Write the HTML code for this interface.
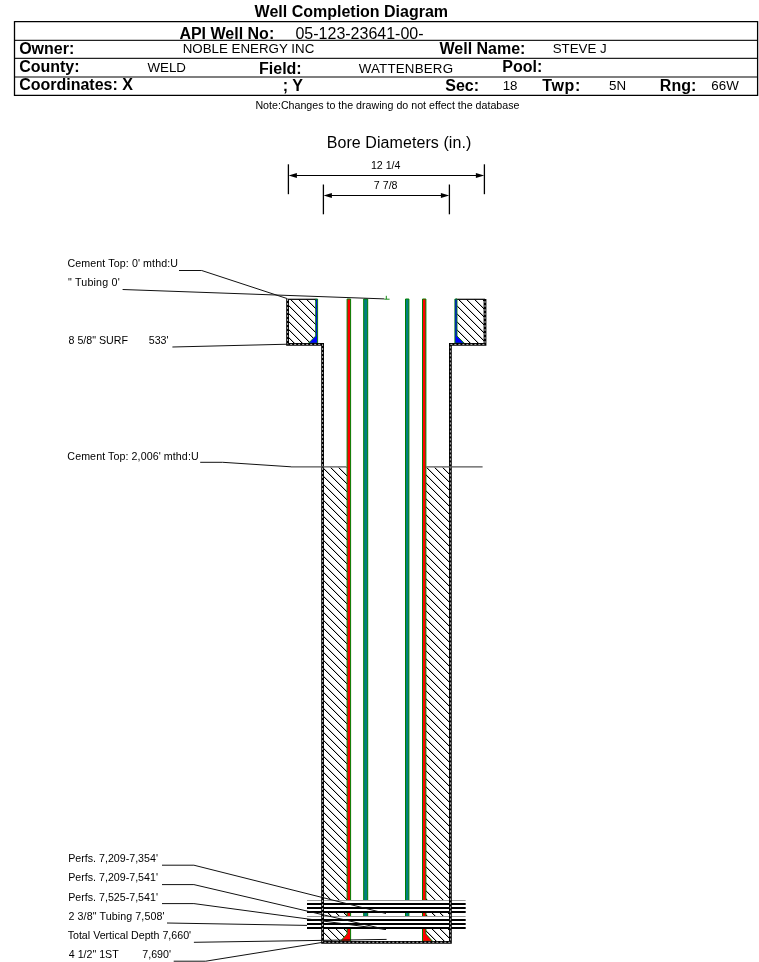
<!DOCTYPE html>
<html><head><meta charset="utf-8"><style>
html,body{margin:0;padding:0;background:#fff;width:759px;height:962px;overflow:hidden}
svg{position:absolute;left:0;top:0;display:block;will-change:transform}
text{font-family:"Liberation Sans",sans-serif;white-space:pre}
</style></head><body>
<svg width="759" height="962" viewBox="0 0 759 962">
<defs><pattern id="hTL" patternUnits="userSpaceOnUse" width="8" height="8"><g fill="#c8c8c8" shape-rendering="crispEdges"><rect x="0" y="0" width="1" height="1"/><rect x="1" y="1" width="1" height="1"/><rect x="2" y="2" width="1" height="1"/><rect x="3" y="3" width="1" height="1"/><rect x="4" y="4" width="1" height="1"/><rect x="5" y="5" width="1" height="1"/><rect x="6" y="6" width="1" height="1"/><rect x="7" y="7" width="1" height="1"/></g><g fill="#000" shape-rendering="crispEdges"><rect x="7" y="0" width="1" height="1"/><rect x="0" y="1" width="1" height="1"/><rect x="1" y="2" width="1" height="1"/><rect x="2" y="3" width="1" height="1"/><rect x="3" y="4" width="1" height="1"/><rect x="4" y="5" width="1" height="1"/><rect x="5" y="6" width="1" height="1"/><rect x="6" y="7" width="1" height="1"/></g></pattern><pattern id="hTR" patternUnits="userSpaceOnUse" width="8" height="8"><g fill="#c8c8c8" shape-rendering="crispEdges"><rect x="0" y="0" width="1" height="1"/><rect x="1" y="1" width="1" height="1"/><rect x="2" y="2" width="1" height="1"/><rect x="3" y="3" width="1" height="1"/><rect x="4" y="4" width="1" height="1"/><rect x="5" y="5" width="1" height="1"/><rect x="6" y="6" width="1" height="1"/><rect x="7" y="7" width="1" height="1"/></g><g fill="#000" shape-rendering="crispEdges"><rect x="7" y="0" width="1" height="1"/><rect x="0" y="1" width="1" height="1"/><rect x="1" y="2" width="1" height="1"/><rect x="2" y="3" width="1" height="1"/><rect x="3" y="4" width="1" height="1"/><rect x="4" y="5" width="1" height="1"/><rect x="5" y="6" width="1" height="1"/><rect x="6" y="7" width="1" height="1"/></g></pattern><pattern id="hBL" patternUnits="userSpaceOnUse" width="8" height="8"><g fill="#c8c8c8" shape-rendering="crispEdges"><rect x="0" y="0" width="1" height="1"/><rect x="1" y="1" width="1" height="1"/><rect x="2" y="2" width="1" height="1"/><rect x="3" y="3" width="1" height="1"/><rect x="4" y="4" width="1" height="1"/><rect x="5" y="5" width="1" height="1"/><rect x="6" y="6" width="1" height="1"/><rect x="7" y="7" width="1" height="1"/></g><g fill="#000" shape-rendering="crispEdges"><rect x="7" y="0" width="1" height="1"/><rect x="0" y="1" width="1" height="1"/><rect x="1" y="2" width="1" height="1"/><rect x="2" y="3" width="1" height="1"/><rect x="3" y="4" width="1" height="1"/><rect x="4" y="5" width="1" height="1"/><rect x="5" y="6" width="1" height="1"/><rect x="6" y="7" width="1" height="1"/></g></pattern><pattern id="hBR" patternUnits="userSpaceOnUse" width="8" height="8"><g fill="#c8c8c8" shape-rendering="crispEdges"><rect x="0" y="0" width="1" height="1"/><rect x="1" y="1" width="1" height="1"/><rect x="2" y="2" width="1" height="1"/><rect x="3" y="3" width="1" height="1"/><rect x="4" y="4" width="1" height="1"/><rect x="5" y="5" width="1" height="1"/><rect x="6" y="6" width="1" height="1"/><rect x="7" y="7" width="1" height="1"/></g><g fill="#000" shape-rendering="crispEdges"><rect x="7" y="0" width="1" height="1"/><rect x="0" y="1" width="1" height="1"/><rect x="1" y="2" width="1" height="1"/><rect x="2" y="3" width="1" height="1"/><rect x="3" y="4" width="1" height="1"/><rect x="4" y="5" width="1" height="1"/><rect x="5" y="6" width="1" height="1"/><rect x="6" y="7" width="1" height="1"/></g></pattern></defs>
<line x1="14.5" y1="21.7" x2="757.6" y2="21.7" stroke="#000" stroke-width="1.3" />
<line x1="14.5" y1="40.3" x2="757.6" y2="40.3" stroke="#222" stroke-width="1.3" />
<line x1="14.5" y1="58.3" x2="757.6" y2="58.3" stroke="#222" stroke-width="1.2" />
<line x1="14.5" y1="77.0" x2="757.6" y2="77.0" stroke="#555" stroke-width="1.5" />
<line x1="14.5" y1="95.4" x2="757.6" y2="95.4" stroke="#000" stroke-width="1.2" />
<line x1="14.5" y1="21.1" x2="14.5" y2="96" stroke="#000" stroke-width="1.3" />
<line x1="757.6" y1="21.1" x2="757.6" y2="96" stroke="#000" stroke-width="1.3" />
<line x1="288.4" y1="164.3" x2="288.4" y2="194.2" stroke="#000" stroke-width="1.3" />
<line x1="484.4" y1="164.3" x2="484.4" y2="194.2" stroke="#000" stroke-width="1.3" />
<line x1="294.4" y1="175.5" x2="478.4" y2="175.5" stroke="#000" stroke-width="1.2" />
<polygon points="288.59999999999997,175.5 296.9,172.9 296.9,178.1" fill="#000" stroke="none" stroke-width="0"/>
<polygon points="484.2,175.5 475.9,172.9 475.9,178.1" fill="#000" stroke="none" stroke-width="0"/>
<line x1="323.4" y1="184.5" x2="323.4" y2="214.3" stroke="#000" stroke-width="1.3" />
<line x1="449.4" y1="184.5" x2="449.4" y2="214.3" stroke="#000" stroke-width="1.3" />
<line x1="329.4" y1="195.5" x2="443.4" y2="195.5" stroke="#000" stroke-width="1.2" />
<polygon points="323.59999999999997,195.5 331.9,192.9 331.9,198.1" fill="#000" stroke="none" stroke-width="0"/>
<polygon points="449.2,195.5 440.9,192.9 440.9,198.1" fill="#000" stroke="none" stroke-width="0"/>
<rect x="288.8" y="299.5" width="27.2" height="43.8" fill="url(#hTL)"/>
<rect x="457.2" y="299.5" width="27.2" height="43.8" fill="url(#hTR)"/>
<rect x="323.8" y="467.6" width="23.4" height="474" fill="url(#hBL)"/>
<rect x="425.8" y="467.6" width="23.6" height="474" fill="url(#hBR)"/>
<line x1="288" y1="299.3" x2="316" y2="299.3" stroke="#000" stroke-width="1.2" />
<line x1="456" y1="299.3" x2="485" y2="299.3" stroke="#000" stroke-width="1.2" />
<polygon points="317.6,299 317.6,343.2 308.5,343.2 315.7,336 315.7,299" fill="#0000ff" stroke="#008000" stroke-width="0.9"/>
<polygon points="454.9,299 454.9,343.2 464.3,343.2 457.0,336 457.0,299" fill="#0000ff" stroke="#008000" stroke-width="0.9"/>
<polygon points="347.1,299 350.6,299 350.6,941.3 340.3,941.3 347.1,934" fill="#ff0000" stroke="#008000" stroke-width="1"/>
<polygon points="422.5,299 425.9,299 425.9,934 432.5,941.3 422.5,941.3" fill="#ff0000" stroke="#008000" stroke-width="1"/>
<polygon points="363.7,299 367.7,299 367.7,927 363.7,927" fill="#008080" stroke="#008000" stroke-width="1"/>
<polygon points="405.5,299 408.9,299 408.9,927 405.5,927" fill="#008080" stroke="#008000" stroke-width="1"/>
<rect x="307" y="900.5" width="158.7" height="12.4" fill="#fff"/>
<rect x="307" y="916.5" width="158.7" height="12.4" fill="#fff"/>
<line x1="307" y1="900.5" x2="465.6" y2="900.5" stroke="#999" stroke-width="1" />
<line x1="307" y1="916.5" x2="465.6" y2="916.5" stroke="#999" stroke-width="1" />
<line x1="307" y1="904" x2="465.7" y2="904" stroke="#000" stroke-width="2" />
<line x1="307" y1="908" x2="465.7" y2="908" stroke="#000" stroke-width="2" />
<line x1="307" y1="912" x2="465.7" y2="912" stroke="#000" stroke-width="2" />
<line x1="307" y1="920" x2="465.7" y2="920" stroke="#000" stroke-width="2" />
<line x1="307" y1="924" x2="465.7" y2="924" stroke="#000" stroke-width="2" />
<line x1="307" y1="928" x2="465.7" y2="928" stroke="#000" stroke-width="2" />
<polyline points="287.6,299 287.6,344.4 322.6,344.4 322.6,942.3 450.4,942.3 450.4,344.4 485,344.4 485,299" fill="none" stroke="#000" stroke-width="2.8" stroke-linejoin="miter"/>
<polyline points="287.6,299 287.6,344.4 322.6,344.4 322.6,942.3 450.4,942.3 450.4,344.4 485,344.4 485,299" fill="none" stroke="#c8c8c8" stroke-width="0.9" stroke-dasharray="2 2"/>
<line x1="291" y1="466.9" x2="346.5" y2="466.9" stroke="#555" stroke-width="1.3" />
<line x1="426.3" y1="466.9" x2="482.6" y2="466.9" stroke="#555" stroke-width="1.3" />
<polyline points="179,270.5 201.7,270.5 287.5,298.7" fill="none" stroke="#111" stroke-width="1"/>
<line x1="122.6" y1="289.5" x2="384.3" y2="298.9" stroke="#111" stroke-width="1" />
<line x1="386.3" y1="295.8" x2="386.3" y2="299.2" stroke="#008000" stroke-width="0.9" />
<line x1="384.3" y1="299.2" x2="389.6" y2="299.2" stroke="#008000" stroke-width="0.9" />
<line x1="172.4" y1="347.0" x2="288" y2="344.2" stroke="#111" stroke-width="1" />
<polyline points="200.2,462.3 222.7,462.3 291,466.8" fill="none" stroke="#111" stroke-width="1"/>
<polyline points="162,865.2 193.9,865.2 386,913.5" fill="none" stroke="#111" stroke-width="1"/>
<polyline points="162,884.6 193.9,884.6 386,929.5" fill="none" stroke="#111" stroke-width="1"/>
<polyline points="162,903.6 193.9,903.6 386,929.5" fill="none" stroke="#111" stroke-width="1"/>
<line x1="167" y1="923" x2="307" y2="925.4" stroke="#111" stroke-width="1" />
<line x1="193.9" y1="942.3" x2="386.6" y2="939.4" stroke="#111" stroke-width="1" />
<polyline points="173.7,961.2 205.7,961.2 323,942.3" fill="none" stroke="#111" stroke-width="1"/>
<text x="254.58" y="16.90" style="font-size:16px;font-weight:bold;fill:#000">Well Completion Diagram</text>
<text x="179.40" y="38.50" style="font-size:16px;font-weight:bold;fill:#000">API Well No:</text>
<text x="295.48" y="38.50" style="font-size:16px;fill:#000">05-123-23641-00-</text>
<text x="19.14" y="53.60" style="font-size:16px;font-weight:bold;fill:#000">Owner:</text>
<text x="182.71" y="53.00" style="font-size:13.333px;fill:#000">NOBLE ENERGY INC</text>
<text x="439.48" y="53.50" style="font-size:16px;font-weight:bold;fill:#000">Well Name:</text>
<text x="552.64" y="53.00" style="font-size:13.333px;fill:#000">STEVE J</text>
<text x="19.14" y="71.80" style="font-size:16px;font-weight:bold;fill:#000">County:</text>
<text x="147.44" y="71.60" style="font-size:13.333px;fill:#000">WELD</text>
<text x="259.03" y="74.00" style="font-size:16px;font-weight:bold;fill:#000">Field:</text>
<text x="358.74" y="73.30" textLength="94.26" lengthAdjust="spacing" style="font-size:13.333px;fill:#000">WATTENBERG</text>
<text x="502.33" y="72.10" style="font-size:16px;font-weight:bold;fill:#000">Pool:</text>
<text x="19.14" y="89.75" style="font-size:16px;font-weight:bold;fill:#000">Coordinates: X</text>
<text x="282.78" y="90.60" style="font-size:16px;font-weight:bold;fill:#000">; Y</text>
<text x="445.24" y="90.70" style="font-size:16px;font-weight:bold;fill:#000">Sec:</text>
<text x="502.68" y="89.70" style="font-size:13.333px;fill:#000">18</text>
<text x="542.22" y="90.90" textLength="38.17" lengthAdjust="spacing" style="font-size:16px;font-weight:bold;fill:#000">Twp:</text>
<text x="608.97" y="89.80" style="font-size:13.333px;fill:#000">5N</text>
<text x="659.83" y="90.50" style="font-size:16px;font-weight:bold;fill:#000">Rng:</text>
<text x="711.32" y="89.60" style="font-size:13.333px;fill:#000">66W</text>
<text x="255.42" y="108.60" style="font-size:10.667px;fill:#000">Note:Changes to the drawing do not effect the database</text>
<text x="326.69" y="148.00" textLength="144.63" lengthAdjust="spacing" style="font-size:16px;fill:#000">Bore Diameters (in.)</text>
<text x="370.89" y="168.80" style="font-size:10.667px;fill:#000">12 1/4</text>
<text x="373.85" y="188.70" style="font-size:10.667px;fill:#000">7 7/8</text>
<text x="67.46" y="267.30" textLength="110.54" lengthAdjust="spacing" style="font-size:10.667px;fill:#000">Cement Top: 0' mthd:U</text>
<text x="68.05" y="286.00" textLength="51.63" lengthAdjust="spacing" style="font-size:10.667px;fill:#000">&quot; Tubing 0'</text>
<text x="68.54" y="343.60" style="font-size:10.667px;fill:#000">8 5/8&quot; SURF</text>
<text x="148.77" y="343.60" style="font-size:10.667px;fill:#000">533'</text>
<text x="67.36" y="459.50" textLength="131.27" lengthAdjust="spacing" style="font-size:10.667px;fill:#000">Cement Top: 2,006' mthd:U</text>
<text x="68.22" y="862.00" style="font-size:10.667px;fill:#000">Perfs. 7,209-7,354'</text>
<text x="68.22" y="881.20" style="font-size:10.667px;fill:#000">Perfs. 7,209-7,541'</text>
<text x="68.22" y="900.60" style="font-size:10.667px;fill:#000">Perfs. 7,525-7,541'</text>
<text x="68.46" y="920.00" textLength="96.12" lengthAdjust="spacing" style="font-size:10.667px;fill:#000">2 3/8&quot; Tubing 7,508'</text>
<text x="67.66" y="939.30" style="font-size:10.667px;fill:#000">Total Vertical Depth 7,660'</text>
<text x="68.76" y="957.70" style="font-size:10.667px;fill:#000">4 1/2&quot; 1ST</text>
<text x="142.25" y="957.70" style="font-size:10.667px;fill:#000">7,690'</text>
</svg>
</body></html>
